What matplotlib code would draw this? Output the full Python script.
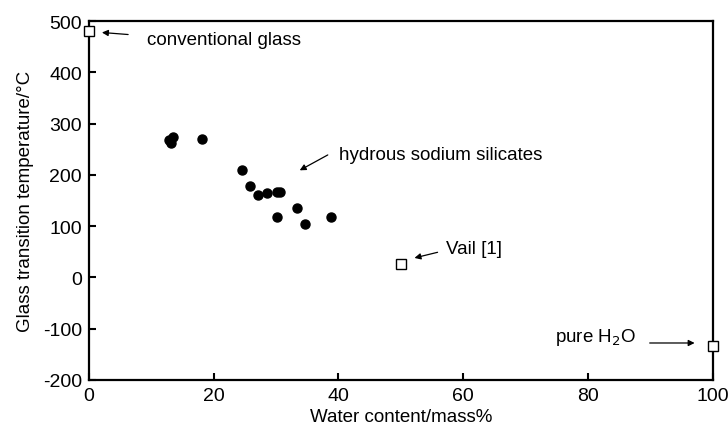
import matplotlib
matplotlib.use('Agg')
import matplotlib.pyplot as plt

plt.rcParams['font.family'] = ['Liberation Sans', 'DejaVu Sans']
plt.rcParams['axes.unicode_minus'] = False

# hydrous sodium silicates (filled circles)
water = [12.9, 13.1, 13.5, 18.1, 24.5, 25.9, 27.1, 28.5, 30.1, 30.7, 30.2, 33.4, 34.7, 38.8]
tg = [268, 263, 274, 271, 210, 178, 161, 164, 166, 166, 117, 135, 105, 117]

# reference points (open squares)
ref_water = [0, 50, 100]
ref_tg = [480, 26, -133]

fig = plt.figure(figsize=(7.28, 4.27), dpi=100)
ax = fig.add_axes([0.122, 0.108, 0.857, 0.840])

ax.plot(water, tg, 'o', color='black', markersize=6.5, clip_on=False)
ax.plot(ref_water, ref_tg, 's', markerfacecolor='white', markeredgecolor='black',
        markersize=6.5, markeredgewidth=1.0, clip_on=False, zorder=5)

ax.set_xlim(0, 100)
ax.set_ylim(-200, 500)
ax.set_xticks([0, 20, 40, 60, 80, 100])
ax.set_yticks([-200, -100, 0, 100, 200, 300, 400, 500])
ax.tick_params(direction='in', length=5, width=1.5, labelsize=14, pad=5,
               top=False, right=False)
for s in ax.spines.values():
    s.set_linewidth(1.6)

ax.set_xlabel('Water content/mass%', fontsize=13.5, labelpad=3)
ax.set_ylabel('Glass transition temperature/\u00b0C', fontsize=13.5, labelpad=6)

arrow = dict(arrowstyle='-|>', color='black', lw=0.9, mutation_scale=9, shrinkA=0, shrinkB=0)
ax.annotate('', xy=(2.1, 478), xytext=(6.3, 474), arrowprops=arrow)
ax.text(9.3, 465, 'conventional glass', fontsize=13.5, va='center')

ax.annotate('', xy=(33.8, 209), xytext=(38.3, 239), arrowprops=arrow)
ax.text(40.1, 240, 'hydrous sodium silicates', fontsize=13.5, va='center')

ax.annotate('', xy=(52.2, 38), xytext=(55.9, 49), arrowprops=arrow)
ax.text(57.3, 56, 'Vail [1]', fontsize=13.5, va='center')

ax.annotate('', xy=(97.1, -128), xytext=(89.9, -128), arrowprops=arrow)
ax.text(74.8, -116, 'pure H$_2$O', fontsize=13.5, va='center')

fig.savefig('out.png', dpi=100)
